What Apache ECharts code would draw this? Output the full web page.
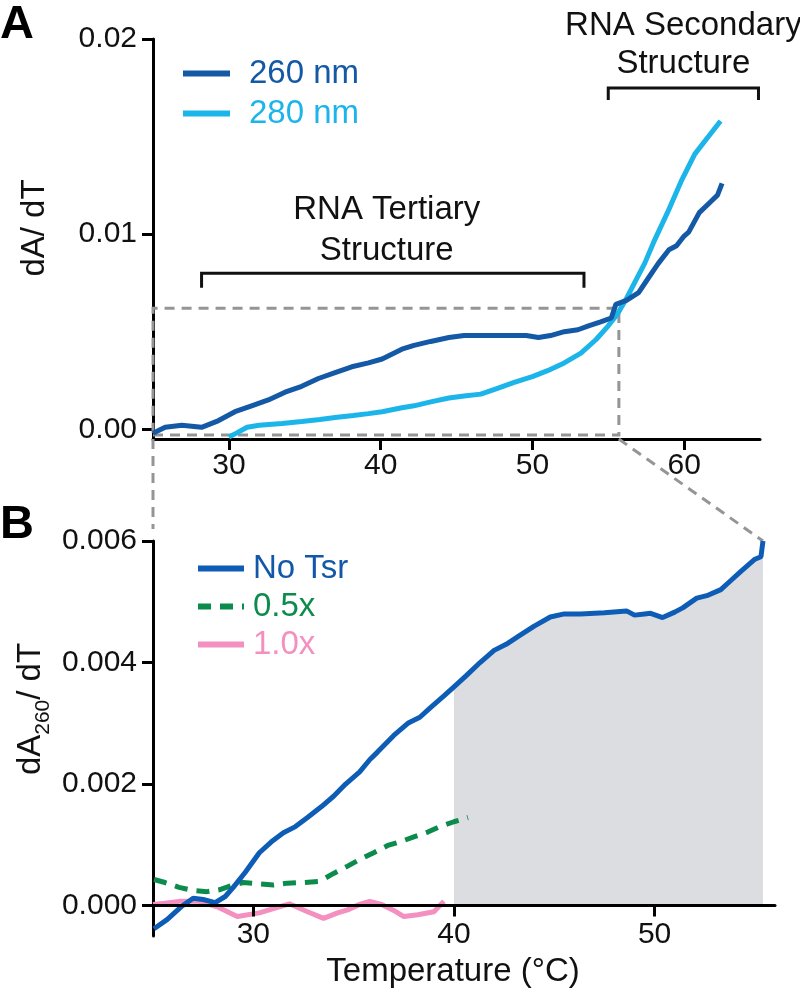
<!DOCTYPE html>
<html>
<head>
<meta charset="utf-8">
<script src="https://cdn.jsdelivr.net/npm/echarts@6/dist/echarts.min.js"></script>
<style>
html,body{margin:0;padding:0;background:#fff;}
#chart{width:800px;height:992px;}
</style>
</head>
<body>
<div id="chart"></div>
<script>
// ---------- Panel A data ----------
const tempA260 = [25.0, 25.8, 26.9, 28.2, 29.2, 30.4, 31.5, 32.6, 33.7, 34.8, 35.9, 37.0, 38.1, 39.2, 40.1, 41.4, 42.2, 43.3, 44.5, 45.5, 46.6, 47.7, 48.8, 49.6, 50.4, 51.2, 52.1, 53.0, 53.7, 54.5, 55.2, 55.5, 56.2, 57.0, 57.6, 58.3, 59.0, 59.5, 60.0, 60.3, 61.0, 61.8, 62.2, 62.5];
const dA260 = [-0.0002, 0.0001, 0.0002, 0.0001, 0.0004, 0.0009, 0.0012, 0.0015, 0.0019, 0.0022, 0.0026, 0.0029, 0.0032, 0.0034, 0.0036, 0.0041, 0.0043, 0.0045, 0.0047, 0.0048, 0.0048, 0.0048, 0.0048, 0.0048, 0.0047, 0.0048, 0.0050, 0.0051, 0.0053, 0.0055, 0.0057, 0.0064, 0.0066, 0.0070, 0.0077, 0.0085, 0.0092, 0.0094, 0.0099, 0.0101, 0.0111, 0.0117, 0.0120, 0.0126];
const tempA280 = [30.0, 30.5, 31.2, 32.0, 33.5, 34.8, 36.0, 37.0, 38.2, 39.2, 40.1, 41.4, 42.2, 43.3, 44.5, 45.5, 46.6, 47.7, 48.8, 50.0, 51.0, 52.1, 53.2, 54.2, 55.0, 55.6, 56.2, 56.8, 57.4, 58.0, 58.9, 59.8, 60.7, 61.5, 62.4];
const dA280 = [-0.0004, -0.0002, 0.0001, 0.0002, 0.0003, 0.0004, 0.0005, 0.0006, 0.0007, 0.0008, 0.0009, 0.0011, 0.0012, 0.0014, 0.0016, 0.0017, 0.0018, 0.0021, 0.0024, 0.0027, 0.0030, 0.0034, 0.0039, 0.0046, 0.0053, 0.0059, 0.0067, 0.0076, 0.0085, 0.0096, 0.0111, 0.0127, 0.0141, 0.0149, 0.0158];
const ticksAX = [30, 40, 50, 60];
const ticksAY = [0, 0.01, 0.02];

// ---------- Panel B data ----------
const tempNoTsr = [25.05, 25.7, 26.4, 27.0, 27.5, 28.1, 28.6, 29.0, 29.6, 30.3, 30.9, 31.5, 32.1, 32.7, 33.4, 34.0, 34.6, 35.3, 35.8, 36.2, 37.0, 37.7, 38.3, 38.8, 39.5, 40.0, 40.6, 41.3, 42.0, 42.6, 43.3, 44.0, 44.8, 45.5, 46.3, 47.5, 48.6, 49.0, 49.5, 49.8, 50.4, 51.0, 51.4, 52.1, 52.6, 53.3, 53.8, 54.3, 55.0, 55.3, 55.4];
const dANoTsr = [-0.00038, -0.00023, -0.00002, 0.00012, 0.00010, 0.00005, 0.00015, 0.00030, 0.00055, 0.00087, 0.00105, 0.00120, 0.00130, 0.00145, 0.00163, 0.00180, 0.00200, 0.00220, 0.00240, 0.00253, 0.00280, 0.00300, 0.00310, 0.00325, 0.00345, 0.00360, 0.00378, 0.00400, 0.00420, 0.00430, 0.00445, 0.00460, 0.00475, 0.00480, 0.00480, 0.00482, 0.00485, 0.00478, 0.00480, 0.00481, 0.00474, 0.00483, 0.00490, 0.00506, 0.00510, 0.00520, 0.00535, 0.00550, 0.00570, 0.00574, 0.00600];
const temp05x = [25.05, 25.6, 26.3, 27.0, 27.7, 28.3, 28.9, 29.5, 30.3, 31.0, 31.7, 32.5, 33.3, 34.0, 34.7, 35.3, 36.0, 36.7, 37.4, 38.0, 38.7, 39.3, 40.0, 40.7];
const dA05x = [0.00043, 0.00038, 0.00030, 0.00025, 0.00023, 0.00026, 0.00033, 0.00038, 0.00036, 0.00034, 0.00037, 0.00038, 0.00040, 0.00053, 0.00065, 0.00076, 0.00087, 0.00099, 0.00106, 0.00113, 0.00121, 0.00130, 0.00138, 0.00145];
const temp10x = [25.0, 25.6, 26.3, 27.3, 28.2, 29.2, 30.3, 31.0, 31.8, 32.7, 33.5, 34.2, 34.7, 35.3, 35.8, 36.4, 37.0, 37.5, 38.2, 39.0, 39.5];
const dA10x = [0.00002, 0.00004, 0.00007, 0.00007, -0.00002, -0.00018, -0.00012, -0.00005, 0.00003, -0.00010, -0.00021, -0.00012, -0.00007, 0.00002, 0.00007, 0.00002, -0.00008, -0.00018, -0.00015, -0.00010, 0.00007];
const shadeFrom = 40;
const ticksBX = [30, 40, 50];
const ticksBY = [0, 0.002, 0.004, 0.006];

// ---------- annotations (data coordinates of panel A) ----------
const tertiaryRange = [28.2, 53.4];
const secondaryRange = [55.0, 64.9];
const tertiaryBracketY = [0.0080, 0.00725];
const secondaryBracketY = [0.01749, 0.01687];
const zoomBoxX = [25, 55.7];
const zoomBoxY = [-0.0003, 0.0062];

const FONT = "'Liberation Sans', Arial, Helvetica, sans-serif";
const pairs = (xs, ys) => xs.map((x, i) => [x, ys[i]]);
const noTsrPairs = pairs(tempNoTsr, dANoTsr);
const shadePairs = noTsrPairs.filter(p => p[0] >= shadeFrom);

const gridB = { left: 153, top: 541, width: 622, height: 395 };
const yMinB = -0.0005, yMaxB = 0.006;
// distance (px) from grid B bottom up to y = 0, derived from the axis scale
const zeroOffsetB = -gridB.height * (0 - yMinB) / (yMaxB - yMinB);

function axisCommon(fmt, custom, margin) {
  return {
    axisLine: { show: true, onZero: false, lineStyle: { color: '#000', width: 3 } },
    axisTick: { show: true, length: 11, inside: false, customValues: custom, lineStyle: { color: '#000', width: 3 } },
    axisLabel: { show: true, customValues: custom, formatter: fmt, margin: margin, color: '#111', fontSize: 30, fontFamily: FONT },
    splitLine: { show: false }
  };
}

const chart = echarts.init(document.getElementById('chart'), null, { renderer: 'canvas' });

chart.setOption({
  animation: false,
  backgroundColor: '#fff',
  grid: [
    { left: 153, top: 39, width: 607, height: 400 },
    gridB
  ],
  xAxis: [
    Object.assign({ type: 'value', gridIndex: 0, min: 25, max: 65 }, axisCommon(v => String(v), ticksAX, 12)),
    Object.assign({ type: 'value', gridIndex: 1, min: 25, max: 56, z: 30, offset: zeroOffsetB }, axisCommon(v => String(v), ticksBX, 14))
  ],
  yAxis: [
    Object.assign({ type: 'value', gridIndex: 0, min: -0.0005, max: 0.02 }, axisCommon(v => v.toFixed(2), ticksAY, 16)),
    Object.assign({ type: 'value', gridIndex: 1, min: yMinB, max: yMaxB }, axisCommon(v => v.toFixed(3), ticksBY, 16))
  ],
  legend: [
    {
      orient: 'vertical', left: 178, top: 52, itemWidth: 47, itemHeight: 6, itemGap: 7, icon: 'rect',
      data: [ { name: '260 nm', textStyle: { color: '#1459a6' } }, { name: '280 nm', textStyle: { color: '#1cb5ea' } } ],
      textStyle: { fontSize: 33, fontFamily: FONT, lineHeight: 33, padding: [0, 0, 0, 14] }
    },
    {
      orient: 'vertical', left: 190, top: 547, itemWidth: 46, itemHeight: 14, itemGap: 5,
      itemStyle: { opacity: 0 }, lineStyle: { width: 6 },
      data: [ { name: 'No Tsr', textStyle: { color: '#1258a8' } }, { name: '0.5x', textStyle: { color: '#0b8c4c' } }, { name: '1.0x', textStyle: { color: '#f490c0' } } ],
      textStyle: { fontSize: 33, fontFamily: FONT, lineHeight: 33, padding: [0, 0, 0, 4] }
    }
  ],
  series: [
    { name: '280 nm', type: 'line', xAxisIndex: 0, yAxisIndex: 0, data: pairs(tempA280, dA280), symbol: 'none', itemStyle: { color: '#1cb5ea' }, lineStyle: { color: '#1cb5ea', width: 5 }, z: 3 },
    { name: '260 nm', type: 'line', xAxisIndex: 0, yAxisIndex: 0, data: pairs(tempA260, dA260), symbol: 'none', itemStyle: { color: '#1459a6' }, lineStyle: { color: '#1459a6', width: 5 }, z: 4 },
    { name: 'shade', type: 'line', xAxisIndex: 1, yAxisIndex: 1, data: shadePairs, symbol: 'none', lineStyle: { width: 0, opacity: 0 }, areaStyle: { color: '#dcdde0', opacity: 1, origin: 0 }, z: 1, silent: true },
    { name: '1.0x', type: 'line', xAxisIndex: 1, yAxisIndex: 1, data: pairs(temp10x, dA10x), symbol: 'none', itemStyle: { color: '#f490c0' }, lineStyle: { color: '#f490c0', width: 5 }, z: 3 },
    { name: '0.5x', type: 'line', xAxisIndex: 1, yAxisIndex: 1, data: pairs(temp05x, dA05x), symbol: 'none', itemStyle: { color: '#0b8c4c' }, lineStyle: { color: '#0b8c4c', width: 5, type: [13, 9] }, z: 4 },
    { name: 'No Tsr', type: 'line', xAxisIndex: 1, yAxisIndex: 1, data: noTsrPairs, symbol: 'none', itemStyle: { color: '#0d5db6' }, lineStyle: { color: '#0d5db6', width: 5 }, z: 5 }
  ]
});

// ---------- decorations positioned through the axes ----------
const pA = (x, y) => chart.convertToPixel({ gridIndex: 0 }, [x, y]);
const pB = (x, y) => chart.convertToPixel({ gridIndex: 1 }, [x, y]);
const dashStyle = { stroke: '#959595', lineWidth: 3, lineDash: [10, 7], fill: null };
const solidStyle = { stroke: '#111', lineWidth: 3, fill: null };
const b0 = pA(zoomBoxX[0], zoomBoxY[0]);
const b1 = pA(zoomBoxX[1], zoomBoxY[1]);
const bTopL = pB(zoomBoxX[0], 0.006);
const bTopR = pB(tempNoTsr[tempNoTsr.length - 1], 0.006);
const t0 = pA(tertiaryRange[0], tertiaryBracketY[0]);
const t1 = pA(tertiaryRange[1], tertiaryBracketY[0]);
const tLow = pA(tertiaryRange[0], tertiaryBracketY[1]);
const s0 = pA(secondaryRange[0], secondaryBracketY[0]);
const s1 = pA(secondaryRange[1], secondaryBracketY[0]);
const sLow = pA(secondaryRange[0], secondaryBracketY[1]);
const annText = (txt, x, y) => ({ type: 'text', x: x, y: y, z: 20, style: { text: txt, fontSize: 33, fontFamily: FONT, fill: '#111', align: 'center', verticalAlign: 'middle' } });

chart.setOption({
  graphic: [
    { type: 'polyline', z: 2, shape: { points: [[b0[0], b0[1]], [b1[0], b0[1]], [b1[0], b1[1]], [b0[0], b1[1]], [b0[0], b0[1]]] }, style: dashStyle },
    { type: 'line', z: 2, shape: { x1: b0[0], y1: b0[1] + 4, x2: bTopL[0], y2: bTopL[1] - 12 }, style: dashStyle },
    { type: 'line', z: 2, shape: { x1: b1[0], y1: b0[1] + 4, x2: bTopR[0], y2: bTopR[1] }, style: dashStyle },
    { type: 'polyline', z: 10, shape: { points: [[t0[0], tLow[1]], [t0[0], t0[1]], [t1[0], t1[1]], [t1[0], tLow[1]]] }, style: solidStyle },
    { type: 'polyline', z: 10, shape: { points: [[s0[0], sLow[1]], [s0[0], s0[1]], [s1[0], s1[1]], [s1[0], sLow[1]]] }, style: solidStyle },
    annText('RNA Tertiary', (t0[0] + t1[0]) / 2 - 6, t0[1] - 63),
    annText('Structure', (t0[0] + t1[0]) / 2 - 6, t0[1] - 22),
    annText('RNA Secondary', (s0[0] + s1[0]) / 2, s0[1] - 62),
    annText('Structure', (s0[0] + s1[0]) / 2, s0[1] - 24),
    { type: 'text', x: 0, y: 25, z: 20, style: { text: 'A', fontSize: 47, fontWeight: 'bold', fontFamily: FONT, fill: '#000', verticalAlign: 'middle' } },
    { type: 'text', x: 0, y: 525, z: 20, style: { text: 'B', fontSize: 47, fontWeight: 'bold', fontFamily: FONT, fill: '#000', verticalAlign: 'middle' } },
    { type: 'text', x: 35, y: 228, rotation: Math.PI / 2, z: 20, style: { text: 'dA/ dT', fontSize: 33, fontFamily: FONT, fill: '#111', align: 'center', verticalAlign: 'middle' } },
    { type: 'text', x: 37, y: 709, rotation: Math.PI / 2, z: 20, style: {
        text: '{m|dA}{s|260}{m|/ dT}', fontFamily: FONT, fill: '#111', align: 'center', verticalAlign: 'middle',
        rich: {
          m: { fontSize: 33, fontFamily: FONT, fill: '#111', lineHeight: 33, padding: [0, 0, 6, 0], verticalAlign: 'bottom' },
          s: { fontSize: 21, fontFamily: FONT, fill: '#111', lineHeight: 21, verticalAlign: 'bottom' }
        }
      } },
    { type: 'text', x: 453, y: 972, z: 20, style: { text: 'Temperature (°C)', fontSize: 33, fontFamily: FONT, fill: '#111', align: 'center', verticalAlign: 'middle' } }
  ]
});
</script>
</body>
</html>
